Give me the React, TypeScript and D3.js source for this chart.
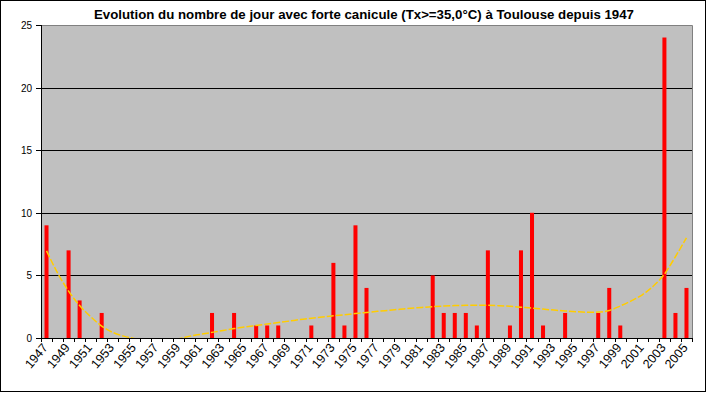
// Externals
import * as d3 from 'd3'
import { FC, useMemo } from 'react'



const WIDTH = 707
const HEIGHT = 393
const MARGIN = { top: 25, right: 15, bottom: 55, left: 41 }

const TITLE = 'Evolution du nombre de jour avec forte canicule (Tx>=35,0°C) à Toulouse depuis 1947'

// One entry per year, 1947 -> 2005
const YEARS = d3.range(1947, 2006).map(String)

const HOT_DAYS = [
  9, 0, 7, 3, 0, 2, 0, 0, 0, 0,
  0, 0, 0, 0, 0, 2, 0, 2, 0, 1,
  1, 1, 0, 0, 1, 0, 6, 1, 9, 4,
  0, 0, 0, 0, 0, 5, 2, 2, 2, 1,
  7, 0, 1, 7, 10, 1, 0, 2, 0, 0,
  2, 4, 1, 0, 0, 0, 24, 2, 4,
]

// Polynomial trend line
const TREND = [
  6.96, 5.2, 3.75, 2.6, 1.7, 0.95, 0.45, 0.15, -0.05, -0.2,
  -0.25, -0.2, -0.05, 0.15, 0.3, 0.45, 0.6, 0.75, 0.88, 1.0,
  1.12, 1.23, 1.35, 1.48, 1.58, 1.68, 1.77, 1.86, 1.95, 2.04,
  2.13, 2.21, 2.29, 2.37, 2.44, 2.5, 2.55, 2.59, 2.61, 2.62,
  2.61, 2.58, 2.53, 2.46, 2.39, 2.31, 2.23, 2.16, 2.1, 2.06,
  2.07, 2.2, 2.56, 2.97, 3.45, 4.15, 5.1, 6.5, 8.0,
]

const Y_TICKS = [0, 5, 10, 15, 20, 25]
const FONT = '"Liberation Sans", Arial, sans-serif'



const App: FC = () => {
  const boundsWidth = WIDTH - MARGIN.left - MARGIN.right
  const boundsHeight = HEIGHT - MARGIN.top - MARGIN.bottom

  const xScale = useMemo(() => {
    return d3.scaleBand().domain(YEARS).range([0, boundsWidth]).padding(0)
  }, [boundsWidth])

  const yScale = useMemo(() => {
    return d3.scaleLinear().domain([0, 25]).range([boundsHeight, 0])
  }, [boundsHeight])

  const step = xScale.bandwidth()
  // Excel gap width of 175%
  const barWidth = step / 2.75

  const bars = HOT_DAYS.map((v, i) => {
    if (v === 0) return null
    const cx = (xScale(YEARS[i]) as number) + step / 2
    return (
      <rect
        key={ i }
        x={ cx - barWidth / 2 }
        y={ yScale(v) }
        width={ barWidth }
        height={ boundsHeight - yScale(v) }
        fill='#FF0000'
      />
    )
  })

  const trendPath = d3
    .line<number>()
    .x((_, i) => (xScale(YEARS[i]) as number) + step / 2)
    .y((d) => yScale(d))
    .curve(d3.curveMonotoneX)(TREND)

  // Category boundaries for the tick marks
  const boundaries = d3.range(YEARS.length + 1).map((i) => i * step)

  return (
    <svg
      width={ WIDTH }
      height={ HEIGHT }
      style={ { position: 'absolute', left: 0, top: 0, background: '#fff' } }
      fontFamily={ FONT }
    >
      <rect x={ 0.5 } y={ 0.5 } width={ WIDTH - 2 } height={ HEIGHT - 2 } fill='#fff' stroke='#000' />

      <text
        x={ 364 }
        y={ 19 }
        textAnchor='middle'
        fontSize={ 12 }
        fontWeight='bold'
        textLength={ 540 }
        lengthAdjust='spacingAndGlyphs'
      >
        { TITLE }
      </text>

      <g transform={ `translate(${MARGIN.left},${MARGIN.top})` }>
        <clipPath id='plot-clip'>
          <rect x={ 0 } y={ 0 } width={ boundsWidth } height={ boundsHeight } />
        </clipPath>

        <rect x={ 0 } y={ 0 } width={ boundsWidth } height={ boundsHeight } fill='#C0C0C0' />

        { Y_TICKS.filter((t) => t > 0 && t < 25).map((t) => (
          <line
            key={ t }
            x1={ 0 }
            x2={ boundsWidth }
            y1={ Math.round(yScale(t)) + 0.5 }
            y2={ Math.round(yScale(t)) + 0.5 }
            stroke='#000'
          />
        )) }

        <path
          d={ `M0.5,0.5H${boundsWidth + 0.5}V${boundsHeight}` }
          fill='none'
          stroke='#808080'
        />

        { bars }

        <path
          d={ trendPath as string }
          fill='none'
          stroke='#FFCC00'
          strokeWidth={ 1.5 }
          strokeDasharray='7,2'
          clipPath='url(#plot-clip)'
        />

        { /* Y axis */ }
        <line x1={ 0.5 } x2={ 0.5 } y1={ 0 } y2={ boundsHeight } stroke='#000' />
        { Y_TICKS.map((t) => (
          <g key={ t } transform={ `translate(0,${Math.round(yScale(t)) + 0.5})` }>
            <line x1={ -5 } x2={ 0 } stroke='#000' />
            <text x={ -9 } dy='0.35em' textAnchor='end' fontSize={ 10 }>
              { t }
            </text>
          </g>
        )) }

        { /* X axis */ }
        <line x1={ 0 } x2={ boundsWidth } y1={ boundsHeight + 0.5 } y2={ boundsHeight + 0.5 } stroke='#000' />
        { boundaries.map((b, i) => (
          <line
            key={ i }
            x1={ Math.round(b) + 0.5 }
            x2={ Math.round(b) + 0.5 }
            y1={ boundsHeight }
            y2={ boundsHeight + 4 }
            stroke='#000'
          />
        )) }
        { YEARS.map((y, i) => {
          if (i % 2 !== 0) return null
          const cx = (xScale(y) as number) + step / 2 + 2
          return (
            <text
              key={ y }
              transform={ `translate(${cx},${boundsHeight + 10}) rotate(-50)` }
              textAnchor='end'
              fontSize={ 12.5 }
            >
              { y }
            </text>
          )
        }) }
      </g>
    </svg>
  )
}


export default App
